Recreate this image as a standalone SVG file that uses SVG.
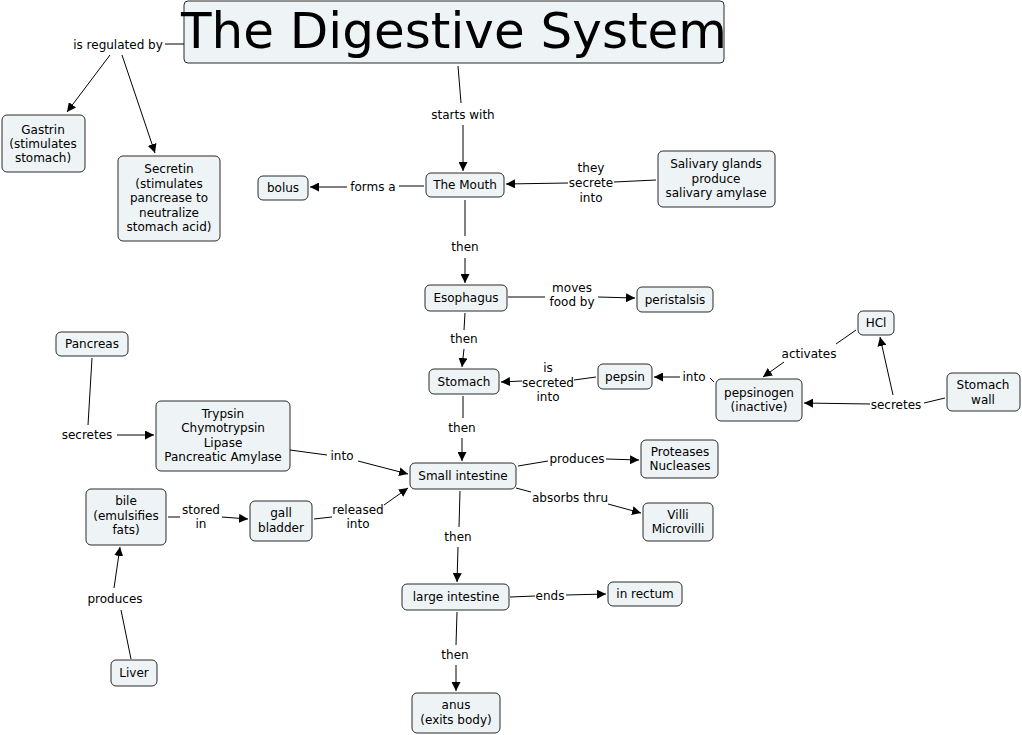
<svg xmlns="http://www.w3.org/2000/svg" width="1022" height="735" viewBox="0 0 1022 735">
<defs>
<marker id="ah" viewBox="0 0 10 10" refX="10" refY="5" markerWidth="9" markerHeight="9" markerUnits="userSpaceOnUse" orient="auto"><path d="M0,0 L10,5 L0,10 z" fill="#000"/></marker>
<style>
rect.n{fill:#eef3f5;stroke:#2b2b2b;stroke-width:1}
text{font-family:"DejaVu Sans",Verdana,sans-serif;font-size:12px;fill:#000;text-anchor:middle}
.c line{stroke:#000;stroke-width:1}
.c line.a{marker-end:url(#ah)}
</style>
</defs>
<rect width="1022" height="735" fill="#fff"/>
<g id="title"><rect class="n" x="184" y="1" width="540" height="62" rx="4"/><text x="454" y="48" style="font-size:50px">The Digestive System</text></g>
<g id="gastrin"><rect class="n" x="2" y="115" width="83" height="57" rx="5"/><text x="43" y="134">Gastrin</text><text x="43" y="148">(stimulates</text><text x="43" y="162">stomach)</text></g>
<g id="secretin"><rect class="n" x="118" y="156" width="102" height="85" rx="5"/><text x="169" y="173">Secretin</text><text x="169" y="188">(stimulates</text><text x="169" y="202">pancrease to</text><text x="169" y="217">neutralize</text><text x="169" y="231">stomach acid)</text></g>
<g id="bolus"><rect class="n" x="258" y="176" width="50" height="24" rx="5"/><text x="283" y="192">bolus</text></g>
<g id="mouth"><rect class="n" x="426" y="173" width="78" height="24" rx="5"/><text x="465" y="189">The Mouth</text></g>
<g id="salivary"><rect class="n" x="658" y="151" width="117" height="56" rx="5"/><text x="716" y="168">Salivary glands</text><text x="716" y="183">produce</text><text x="716" y="197">salivary amylase</text></g>
<g id="esophagus"><rect class="n" x="425" y="285" width="82" height="26" rx="5"/><text x="466" y="302">Esophagus</text></g>
<g id="peristalsis"><rect class="n" x="637" y="287" width="76" height="25" rx="5"/><text x="675" y="304">peristalsis</text></g>
<g id="pancreas"><rect class="n" x="56" y="332" width="72" height="24" rx="5"/><text x="92" y="348">Pancreas</text></g>
<g id="hcl"><rect class="n" x="858" y="311" width="36" height="24" rx="5"/><text x="876" y="327">HCl</text></g>
<g id="stomach"><rect class="n" x="429" y="369" width="70" height="25" rx="5"/><text x="464" y="386">Stomach</text></g>
<g id="pepsin"><rect class="n" x="598" y="364" width="54" height="25" rx="5"/><text x="625" y="381">pepsin</text></g>
<g id="pepsinogen"><rect class="n" x="716" y="379" width="86" height="42" rx="5"/><text x="759" y="397">pepsinogen</text><text x="759" y="411">(inactive)</text></g>
<g id="stomachwall"><rect class="n" x="947" y="373" width="73" height="38" rx="5"/><text x="983" y="389">Stomach</text><text x="983" y="404">wall</text></g>
<g id="enzymes"><rect class="n" x="156" y="401" width="134" height="70" rx="5"/><text x="223" y="418">Trypsin</text><text x="223" y="432">Chymotrypsin</text><text x="223" y="447">Lipase</text><text x="223" y="461">Pancreatic Amylase</text></g>
<g id="small"><rect class="n" x="410" y="463" width="106" height="26" rx="5"/><text x="463" y="480">Small intestine</text></g>
<g id="proteases"><rect class="n" x="641" y="440" width="77" height="38" rx="5"/><text x="680" y="456">Proteases</text><text x="680" y="470">Nucleases</text></g>
<g id="bile"><rect class="n" x="86" y="489" width="80" height="56" rx="5"/><text x="126" y="505">bile</text><text x="126" y="520">(emulsifies</text><text x="126" y="534">fats)</text></g>
<g id="gall"><rect class="n" x="250" y="501" width="62" height="40" rx="5"/><text x="281" y="517">gall</text><text x="281" y="532">bladder</text></g>
<g id="villi"><rect class="n" x="643" y="503" width="70" height="38" rx="5"/><text x="678" y="519">Villi</text><text x="678" y="533">Microvilli</text></g>
<g id="large"><rect class="n" x="402" y="584" width="107" height="26" rx="5"/><text x="456" y="601">large intestine</text></g>
<g id="rectum"><rect class="n" x="608" y="582" width="74" height="24" rx="5"/><text x="645" y="598">in rectum</text></g>
<g id="liver"><rect class="n" x="111" y="660" width="46" height="26" rx="5"/><text x="134" y="677">Liver</text></g>
<g id="anus"><rect class="n" x="412" y="693" width="88" height="40" rx="5"/><text x="456" y="709">anus</text><text x="456" y="724">(exits body)</text></g>
<g id="labels">
<text x="118" y="49">is regulated by</text>
<text x="463" y="119">starts with</text>
<text x="373" y="191">forms a</text>
<text x="591" y="172">they</text><text x="591" y="187">secrete</text><text x="591" y="202">into</text>
<text x="465" y="251">then</text>
<text x="572" y="292">moves</text><text x="572" y="306">food by</text>
<text x="464" y="343">then</text>
<text x="809" y="358">activates</text>
<text x="896" y="409">secretes</text>
<text x="694" y="381">into</text>
<text x="548" y="372">is</text><text x="548" y="387">secreted</text><text x="548" y="401">into</text>
<text x="462" y="432">then</text>
<text x="87" y="439">secretes</text>
<text x="342" y="460">into</text>
<text x="577" y="463">produces</text>
<text x="570" y="502">absorbs thru</text>
<text x="201" y="514">stored</text><text x="201" y="528">in</text>
<text x="358" y="514">released</text><text x="358" y="528">into</text>
<text x="458" y="541">then</text>
<text x="550" y="600">ends</text>
<text x="115" y="603">produces</text>
<text x="455" y="659">then</text>
</g>
<g id="connectors" class="c">
<line x1="184" y1="44" x2="165" y2="44"/>
<line class="a" x1="110" y1="55" x2="67" y2="112"/>
<line class="a" x1="122" y1="55" x2="155" y2="153"/>
<line x1="458" y1="66" x2="461" y2="103"/>
<line class="a" x1="463" y1="125" x2="463" y2="171"/>
<line x1="424" y1="186" x2="399" y2="186"/>
<line class="a" x1="347" y1="187" x2="310" y2="187"/>
<line x1="656" y1="180" x2="614" y2="182"/>
<line class="a" x1="568" y1="183" x2="506" y2="184"/>
<line x1="465" y1="200" x2="465" y2="236"/>
<line class="a" x1="465" y1="258" x2="465" y2="283"/>
<line x1="508" y1="297" x2="545" y2="297"/>
<line class="a" x1="598" y1="297" x2="635" y2="298"/>
<line x1="465" y1="313" x2="464" y2="330"/>
<line class="a" x1="464" y1="349" x2="462" y2="367"/>
<line x1="856" y1="330" x2="836" y2="344"/>
<line class="a" x1="784" y1="362" x2="763" y2="377"/>
<line x1="945" y1="398" x2="924" y2="403"/>
<line class="a" x1="870" y1="404" x2="804" y2="403"/>
<line class="a" x1="893" y1="395" x2="880" y2="337"/>
<line x1="714" y1="382" x2="710" y2="378"/>
<line class="a" x1="680" y1="377" x2="654" y2="377"/>
<line x1="596" y1="377" x2="574" y2="380"/>
<line class="a" x1="522" y1="381" x2="501" y2="382"/>
<line x1="463" y1="396" x2="463" y2="418"/>
<line class="a" x1="462" y1="438" x2="462" y2="461"/>
<line x1="92" y1="358" x2="88" y2="425"/>
<line class="a" x1="117" y1="435" x2="154" y2="435"/>
<line x1="290" y1="450" x2="327" y2="455"/>
<line class="a" x1="358" y1="461" x2="408" y2="474"/>
<line x1="518" y1="466" x2="548" y2="461"/>
<line class="a" x1="606" y1="459" x2="639" y2="460"/>
<line x1="516" y1="488" x2="531" y2="492"/>
<line class="a" x1="608" y1="504" x2="641" y2="513"/>
<line x1="168" y1="517" x2="180" y2="517"/>
<line class="a" x1="222" y1="517" x2="248" y2="519"/>
<line x1="314" y1="519" x2="332" y2="517"/>
<line class="a" x1="384" y1="505" x2="408" y2="488"/>
<line x1="460" y1="491" x2="459" y2="527"/>
<line class="a" x1="458" y1="547" x2="457" y2="582"/>
<line x1="510" y1="597" x2="535" y2="596"/>
<line class="a" x1="566" y1="595" x2="606" y2="594"/>
<line x1="131" y1="659" x2="121" y2="610"/>
<line class="a" x1="114" y1="588" x2="120" y2="547"/>
<line x1="457" y1="612" x2="456" y2="645"/>
<line class="a" x1="456" y1="665" x2="456" y2="691"/>
</g>
</svg>
